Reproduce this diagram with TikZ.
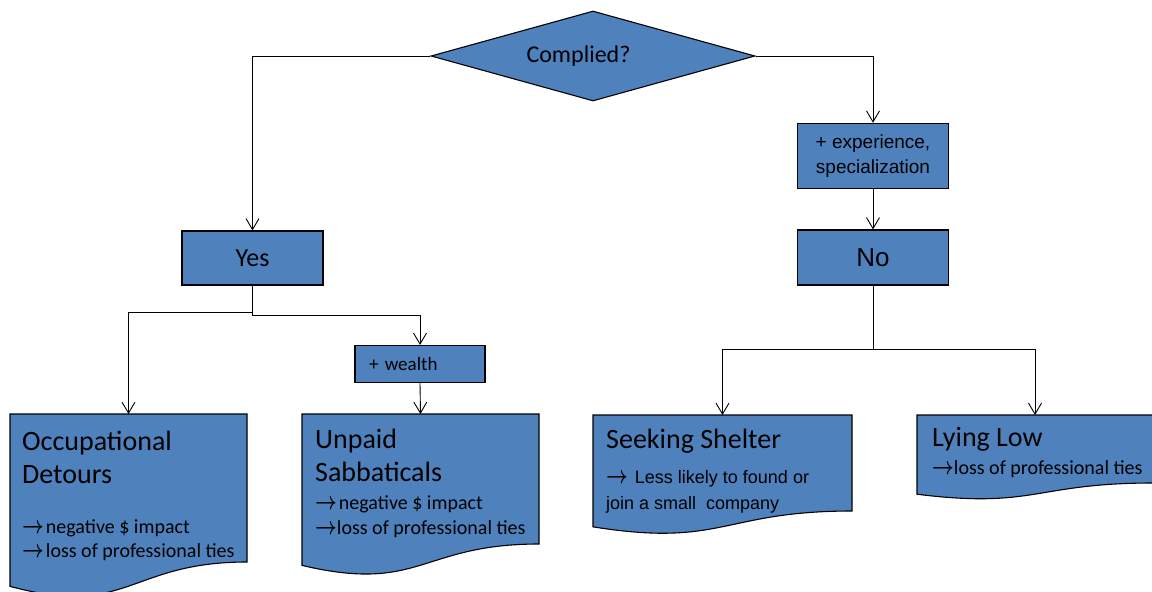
\documentclass[tikz,border=0pt]{standalone}
\usepackage{fontspec}
\usepackage{graphicx}
\setmainfont{Carlito}
\newfontfamily\arialf{Liberation Sans}
\usetikzlibrary{shapes.geometric,arrows.meta,calc}
\definecolor{boxblue}{HTML}{4F81BD}
\newcommand\rarr{\smash{\scalebox{0.76}[1]{\fontsize{24pt}{24pt}\selectfont\boldmath$\rightarrow$}}}
\newcommand\fsz[2]{\fontsize{#1pt}{#2pt}\selectfont}
\newcommand\docshape[2]{%
  \draw[docstyle] (#1.north west) -- (#1.north east) -- (#1.south east)
    .. controls (#1.south) and ($(#1.south)+(0,{0.3055*#2})$) ..
    ($(#1.south west)+(0,{0.132*#2})$) -- cycle;}
\begin{document}
\begin{tikzpicture}[x=1pt,y=-1pt,
  boxstyle/.style={draw=black, line width=1.1pt, fill=boxblue, inner sep=0pt},
  region/.style={inner sep=0pt, outer sep=0pt, anchor=north west},
  docstyle/.style={draw=black, line width=1.1pt, fill=boxblue},
  conn/.style={draw=black, line width=0.9pt},
  arrowc/.style={conn, -{Straight Barb[length=11pt,width=13pt]}},
  txt/.style={anchor=base west, inner sep=0pt},
  big/.style={font=\fsz{28}{34}},
  small/.style={font=\fsz{20}{24}},
]
\useasboundingbox (0,0) rectangle (1152,592);
\clip (0,0) rectangle (1152,592);

% decision
\node[boxstyle, diamond, minimum width=324pt, minimum height=90pt] (dia) at (593,56) {};
\node[anchor=base, inner sep=0pt, font=\fsz{24}{28}] (diat) at (578.5,62) {Complied?};

% boxes
\node[boxstyle, minimum width=141pt, minimum height=54pt] (yes) at (252.5,258) {\fsz{26}{30}Yes};
\node[boxstyle, minimum width=151pt, minimum height=65pt, align=center,
      font=\arialf\fsz{19}{25}] (exp) at (873,155.8) {+ experience,\\specialization};
\node[boxstyle, minimum width=151pt, minimum height=55pt, font=\arialf\fsz{26}{30}] (no) at (873,257.5) {No};
\node[boxstyle, minimum width=130pt, minimum height=37pt, inner xsep=14pt,
      text width=102pt, align=left, font=\fsz{19}{23}] (wealth) at (420,364) {+ wealth};

% document regions
\node[region, minimum width=237pt, minimum height=148pt] (occ) at (10,414) {};
\node[region, minimum width=237pt, minimum height=130pt] (unp) at (302,414) {};
\node[region, minimum width=259pt, minimum height=96pt] (seek) at (593,415) {};
\node[region, minimum width=236pt, minimum height=68pt] (lie) at (917,415) {};
\docshape{occ}{184.5}
\docshape{unp}{162}
\docshape{seek}{120}
\docshape{lie}{85}

% document texts
\node[txt, big] (occ1) at (22,450) {Occupational};
\node[txt, big] (occ2) at (22,483) {Detours};
\node[txt, small] (occ3) at (22,533) {\rarr\kern2pt negative \$ impact};
\node[txt, small] (occ4) at (22,557) {\rarr\kern2pt loss of professional ties};

\node[txt, big] (unp1) at (315,448) {Unpaid};
\node[txt, big] (unp2) at (315,481.5) {Sabbaticals};
\node[txt, small] (unp3) at (315,509.5) {\rarr\kern2pt negative \$ impact};
\node[txt, small] (unp4) at (315,534) {\rarr\kern0pt loss of professional ties};

\node[txt, big] (seek1) at (606,448) {Seeking Shelter};
\node[txt, font=\arialf\fsz{18}{24}] (seek2) at (606,483) {\rarr\kern7pt Less likely to found or};
\node[txt, font=\arialf\fsz{18}{24}] (seek3) at (606,509) {join a small~ company};

\node[txt, big] (lie1) at (932,446) {Lying Low};
\node[txt, small] (lie2) at (932,474) {\rarr\kern0pt loss of professional ties};

% connectors
\draw[arrowc] (dia.west) -| (yes.north);
\draw[arrowc] (dia.east) -| (exp.north);
\draw[arrowc] (exp.south) -- (no.north);
\draw[arrowc] (yes.south) -- ++(0,27) -| (occ.north);
\draw[arrowc] (yes.south) -- ++(0,30) -| (wealth.north);
\draw[arrowc] (wealth.south) -- (unp.north);
\draw[arrowc] (no.south) -- ++(0,64) -| (seek.north);
\draw[arrowc] (no.south) -- ++(0,64) -| (lie.north);
\end{tikzpicture}
\end{document}
